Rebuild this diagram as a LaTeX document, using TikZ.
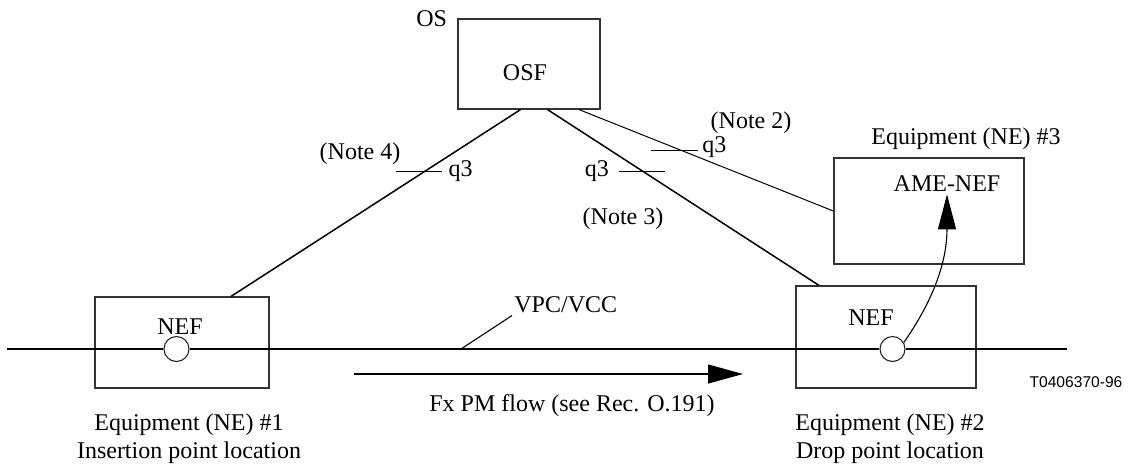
\documentclass[tikz,border=0pt]{standalone}
\usepackage{fontspec}
\setmainfont{Liberation Serif}
\newfontfamily\tagfont{Liberation Sans}
\usetikzlibrary{arrows.meta, positioning, calc}

\begin{document}
\begin{tikzpicture}[
    x=0.5pt, y=-0.5pt,
    >=Stealth,
    font=\fontsize{12}{14}\selectfont,
    % Styles
    equip/.style={draw=black!80, line width=0.65pt, inner sep=0pt},
    point/.style={circle, draw=black!85, line width=0.55pt, fill=white, minimum size=12.5pt, inner sep=0pt},
    lbl/.style={inner sep=1pt},
    link/.style={line width=0.75pt},
    thinlink/.style={line width=0.5pt},
    tick/.style={line width=0.6pt},
    conn/.style={line width=0.55pt},
    flow/.style={-{Triangle[length=17.5pt, width=9.5pt]}, line width=0.55pt},
    notify/.style={-{Triangle[length=17.5pt, width=9pt]}, line width=0.55pt},
]
\useasboundingbox (0,0) rectangle (1130,468);

% ── Management layer ──
\node[equip, minimum width=71pt, minimum height=45pt] (os) at (529,64) {};
\node[lbl] (osf) at (525,73) {OSF};
\node[lbl, left=4pt of os.north west] (oslbl) {OS};

% ── Network elements ──
\node[equip, minimum width=87pt, minimum height=45.5pt] (ne1) at (182,342.5) {};
\node[lbl] (nef1) at (180,327) {NEF};
\node[point] (pt1) at (176.5,349) {};

\node[equip, minimum width=90pt, minimum height=51pt] (ne2) at (886,337) {};
\node[lbl] (nef2) at (871,318) {NEF};
\node[point] (pt2) at (892.5,349) {};

\node[equip, minimum width=95pt, minimum height=53pt] (ne3) at (929,211) {};
\node[lbl] (amenef) at (947,184) {AME-NEF};

\node[lbl, align=center] (cap1) at (189,439) {Equipment (NE) \#1\\Insertion point location};
\node[lbl, align=center] (cap2) at (890,439) {Equipment (NE) \#2\\Drop point location};
\node[lbl] (cap3) at (966,139) {Equipment (NE) \#3};
\node[lbl, font=\tagfont\fontsize{7.8}{9}\selectfont] (tag) at (1076,382) {T0406370-96};

% ── q3 interfaces ──
\draw[link] ($(os.south west)!0.44!(os.south east)$) -- coordinate[pos=0.33] (t4) ($(ne1.north west)!0.78!(ne1.north east)$);
\draw[link] ($(os.south west)!0.63!(os.south east)$) -- coordinate[pos=0.35] (t3) ($(ne2.north west)!0.13!(ne2.north east)$);
\draw[thinlink] ($(os.south west)!0.85!(os.south east)$) -- coordinate[pos=0.4] (t2) (ne3.west);

\draw[tick] ([xshift=-14.5pt]t4) -- ([xshift=8.5pt]t4) node[lbl, right=2pt] (q3a) {q3};
\draw[tick] ([xshift=-12pt]t3) node[lbl, left=3.5pt] (q3b) {q3} -- ([xshift=11pt]t3);
\draw[tick] ([xshift=-15pt]t2) -- ([xshift=8.5pt]t2) node[lbl, right=1pt, yshift=1.5pt] (q3c) {q3};

\node[lbl] (note4) at (360,154) {(Note 4)};
\node[lbl] (note2) at (751,123) {(Note 2)};
\node[lbl] (note3) at (623,219) {(Note 3)};

% ── VPC/VCC ──
\coordinate (west) at (7,349);
\coordinate (east) at (1067,349);
\coordinate (vpcfoot) at (461,349);
\draw[conn] (west) -- (pt1) -- (pt2) -- (east);
\node[lbl, anchor=west] (vpc) at (512,305) {VPC/VCC};
\draw[conn] (vpcfoot) -- (vpc.south west);

% ── Flow ──
\coordinate (flowstart) at (354,374);
\coordinate (flowend) at (743,374);
\draw[flow] (flowstart) -- (flowend);
\node[lbl] (flowlbl) at (572,406) {Fx PM flow (see Rec. O.191)};

\draw[notify] (pt2.30) to[out=55, in=-90] (amenef.south);

\end{tikzpicture}
\end{document}
